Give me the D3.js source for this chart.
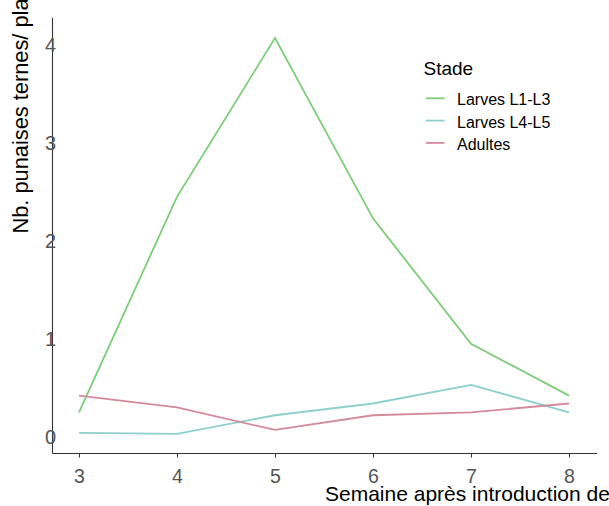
<!DOCTYPE html>
<html>
<head>
<meta charset="utf-8">
<script src="https://cdn.jsdelivr.net/npm/d3@7"></script>
<style>
  html, body { margin: 0; padding: 0; background: #fff; overflow: hidden; }
  svg { display: block; font-family: "Liberation Sans", Arial, sans-serif; }
</style>
</head>
<body>
<svg id="chart" width="609" height="506"></svg>
<script>
// Weekly counts of tarnished plant bugs per plant, by stage
const weeks = [3, 4, 5, 6, 7, 8];
const larvesL1L3 = [0.25, 2.45, 4.07, 2.23, 0.95, 0.42];
const larvesL4L5 = [0.04, 0.03, 0.22, 0.34, 0.53, 0.25];
const adultes    = [0.42, 0.30, 0.07, 0.22, 0.25, 0.34];
const stageNames = ["Larves L1-L3", "Larves L4-L5", "Adultes"];
const stageColors = ["#7dcd78", "#8dcfcd", "#d38b9c"];
const yTicks = [0, 1, 2, 3, 4];

const series = [larvesL1L3, larvesL4L5, adultes].map((vals, i) => ({
  name: stageNames[i],
  color: stageColors[i],
  points: weeks.map((w, j) => ({ week: w, value: vals[j] }))
}));

const svg = d3.select("#chart");
const font = "'Liberation Sans', Arial, sans-serif";

const x = d3.scaleLinear().domain([3, 8]).range([79, 569]);
const y = d3.scaleLinear().domain([0, 4]).range([436.8, 45]);

// Axis lines
svg.append("line")
  .attr("x1", 52.5).attr("x2", 52.5).attr("y1", 18).attr("y2", 453.5)
  .attr("stroke", "#333").attr("stroke-width", 1.1);
svg.append("line")
  .attr("x1", 52.5).attr("x2", 597).attr("y1", 453.5).attr("y2", 453.5)
  .attr("stroke", "#333").attr("stroke-width", 1.1);

// X axis ticks and labels
const xAxis = d3.axisBottom(x).tickValues(weeks).tickSize(4).tickPadding(11.5).tickFormat(d3.format("d"));
const gx = svg.append("g").attr("transform", "translate(0,453.5)").call(xAxis);
gx.select(".domain").remove();
gx.selectAll(".tick line").attr("stroke", "#333");
gx.selectAll(".tick text")
  .attr("fill", "#555")
  .style("font-size", "19.5px")
  .style("font-family", font);

// Y tick labels sit over the axis line
const yAxis = d3.axisLeft(y).tickValues(yTicks).tickSize(0).tickPadding(-3.5).tickFormat(d3.format("d"));
const gy = svg.append("g").attr("transform", "translate(52.5,0)").call(yAxis);
gy.select(".domain").remove();
gy.selectAll(".tick text")
  .attr("fill", "#555")
  .style("font-size", "20px")
  .style("font-family", font);

// Lines
const line = d3.line().x(d => x(d.week)).y(d => y(d.value));
svg.append("g").selectAll("path")
  .data(series)
  .join("path")
  .attr("d", d => line(d.points))
  .attr("fill", "none")
  .attr("stroke", d => d.color)
  .attr("stroke-width", 1.8);

// Axis titles
svg.append("text")
  .attr("transform", "translate(28,233.5) rotate(-90)")
  .attr("text-anchor", "start")
  .attr("fill", "#000")
  .style("font-size", "21.8px")
  .text("Nb. punaises ternes/ plant");

svg.append("text")
  .attr("x", 325).attr("y", 500.5)
  .attr("fill", "#000")
  .style("font-size", "21px")
  .text("Semaine après introduction des punaises");

// Legend
const legend = svg.append("g");
legend.append("text")
  .attr("x", 423.5).attr("y", 74.5)
  .style("font-size", "19px")
  .attr("fill", "#000")
  .text("Stade");
const items = legend.selectAll("g.item")
  .data(series)
  .join("g")
  .attr("class", "item")
  .attr("transform", (d, i) => `translate(0,${98.3 + i * 22.3})`);
items.append("line")
  .attr("x1", 426).attr("x2", 444.5).attr("y1", 0).attr("y2", 0)
  .attr("stroke", d => d.color).attr("stroke-width", 1.8);
items.append("text")
  .attr("x", 457).attr("y", 7)
  .style("font-size", "16px")
  .attr("fill", "#000")
  .text(d => d.name);
</script>
</body>
</html>
